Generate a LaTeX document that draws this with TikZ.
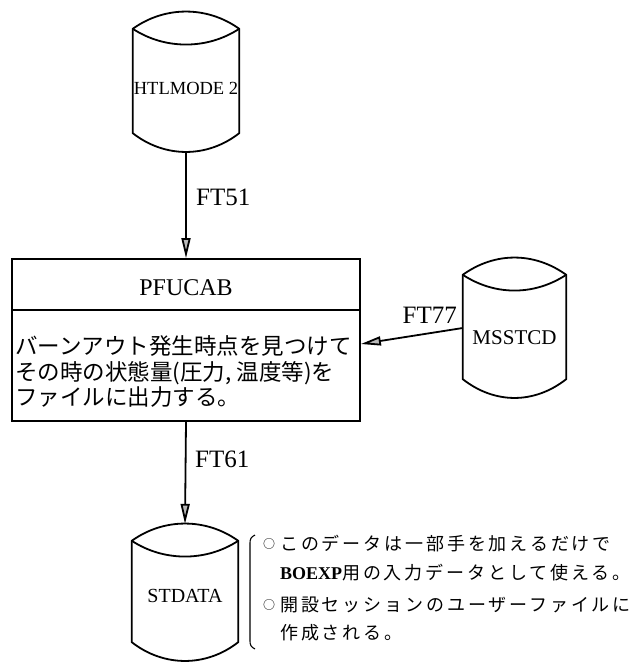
\documentclass[tikz,border=0pt]{standalone}
\usepackage{fontspec}
\setmainfont{Liberation Serif}
\newfontfamily\jpfont{Noto Sans CJK JP}
\newfontfamily\jpnote[LetterSpace=16]{Noto Sans CJK JP}
\usetikzlibrary{arrows.meta,calc}

% Outline of a data-set drum: lens-shaped top, arched bottom
\newcommand\drumoutline[1]{%
  \path ($(#1.north west)+(0,-17)$) coordinate (#1-tl)
        ($(#1.north east)+(0,-17)$) coordinate (#1-tr)
        ($(#1.south west)+(0,19)$) coordinate (#1-bl)
        ($(#1.south east)+(0,19)$) coordinate (#1-br);
  \draw[drumline] (#1-tl) .. controls +(32,23) and +(-32,23) .. (#1-tr)
     -- (#1-br) .. controls +(-32,-25) and +(32,-25) .. (#1-bl) -- cycle;
  \draw[drumline] (#1-tl) .. controls +(32,-21) and +(-32,-21) .. (#1-tr);
}

\begin{document}
\begin{tikzpicture}[x=1pt,y=1pt,
  drum/.style={minimum width=106pt,minimum height=140pt,inner sep=0pt},
  drumline/.style={line width=1.8pt,line join=miter},
  drumtext/.style={inner sep=0pt,anchor=base,font=\fontsize{20}{20}\selectfont},
  flow/.style={line width=1.8pt,-{Triangle[length=20pt,width=9pt,fill=gray!55]}},
  ftlabel/.style={inner sep=0pt,font=\fontsize{25}{25}\selectfont},
  procbox/.style={draw,line width=1.8pt,minimum width=348pt,minimum height=162pt,inner sep=0pt},
  desc/.style={inner sep=0pt,anchor=base west,font=\jpfont\fontsize{22.5}{22.5}\selectfont},
  note/.style={inner sep=0pt,anchor=base west,font=\jpnote\fontsize{18}{18}\selectfont},
  bullet/.style={inner sep=0pt,anchor=base west,font=\jpfont\fontsize{12}{12}\selectfont}]
\useasboundingbox (0,0) rectangle (637,-662);

% data sets
\node[drum] (htl) at (186,-82) {};
\drumoutline{htl}
\node[drumtext,font=\fontsize{18.5}{18.5}\selectfont] (htltext) at (186,-94) {HTLMODE 2};

\node[drum,minimum width=103pt] (mss) at (514.5,-328) {};
\drumoutline{mss}
\node[drumtext,font=\fontsize{21}{21}\selectfont] (msstext) at (514.5,-344) {MSSTCD};

\node[drum,minimum height=137pt] (std) at (185,-592.5) {};
\drumoutline{std}
\node[drumtext] (stdtext) at (185,-602) {STDATA};

% program box
\node[procbox] (pf) at (186,-340) {};
\coordinate (divw) at ($(pf.north west)+(0,-52)$);
\coordinate (dive) at ($(pf.north east)+(0,-52)$);
\draw[line width=1.5pt] (divw) -- (dive);
\node[inner sep=0pt,anchor=base,font=\fontsize{24}{24}\selectfont] (pfname) at (186,-295) {PFUCAB};
\node[desc] (pfl1) at (15,-354.5) {バーンアウト発生時点を見つけて};
\node[desc] (pfl2) at (15,-380) {その時の状態量(圧力, 温度等)を};
\node[desc] (pfl3) at (15,-405.5) {ファイルに出力する。};

% file connections
\draw[flow] (htl.south) -- (pf.north);
\node[ftlabel,anchor=base west] (ft51) at (196,-205) {FT51};
\draw[flow] (mss.west) -- ([yshift=-4pt]pf.east);
\node[ftlabel,anchor=base east] (ft77) at (457,-323) {FT77};
\draw[flow] (pf.south) -- (std.north);
\node[ftlabel,anchor=base west] (ft61) at (195,-467) {FT61};

% remarks on the output file
\draw[line width=1.1pt] (255,-535) .. controls (251,-537) and (250,-539) .. (250,-543)
  -- (250,-641) .. controls (250,-645) and (251,-647) .. (255,-649);
\node[bullet] (b1) at (263,-548) {○};
\node[note] (note1) at (280,-550) {このデータは一部手を加えるだけで};
\node[note] (note2) at (280,-579) {{\rmfamily\bfseries BOEXP}用の入力データとして使える。};
\node[bullet] (b2) at (263,-609) {○};
\node[note] (note3) at (280,-611) {開設セッションのユーザーファイルに};
\node[note] (note4) at (280,-639) {作成される。};
\end{tikzpicture}
\end{document}
